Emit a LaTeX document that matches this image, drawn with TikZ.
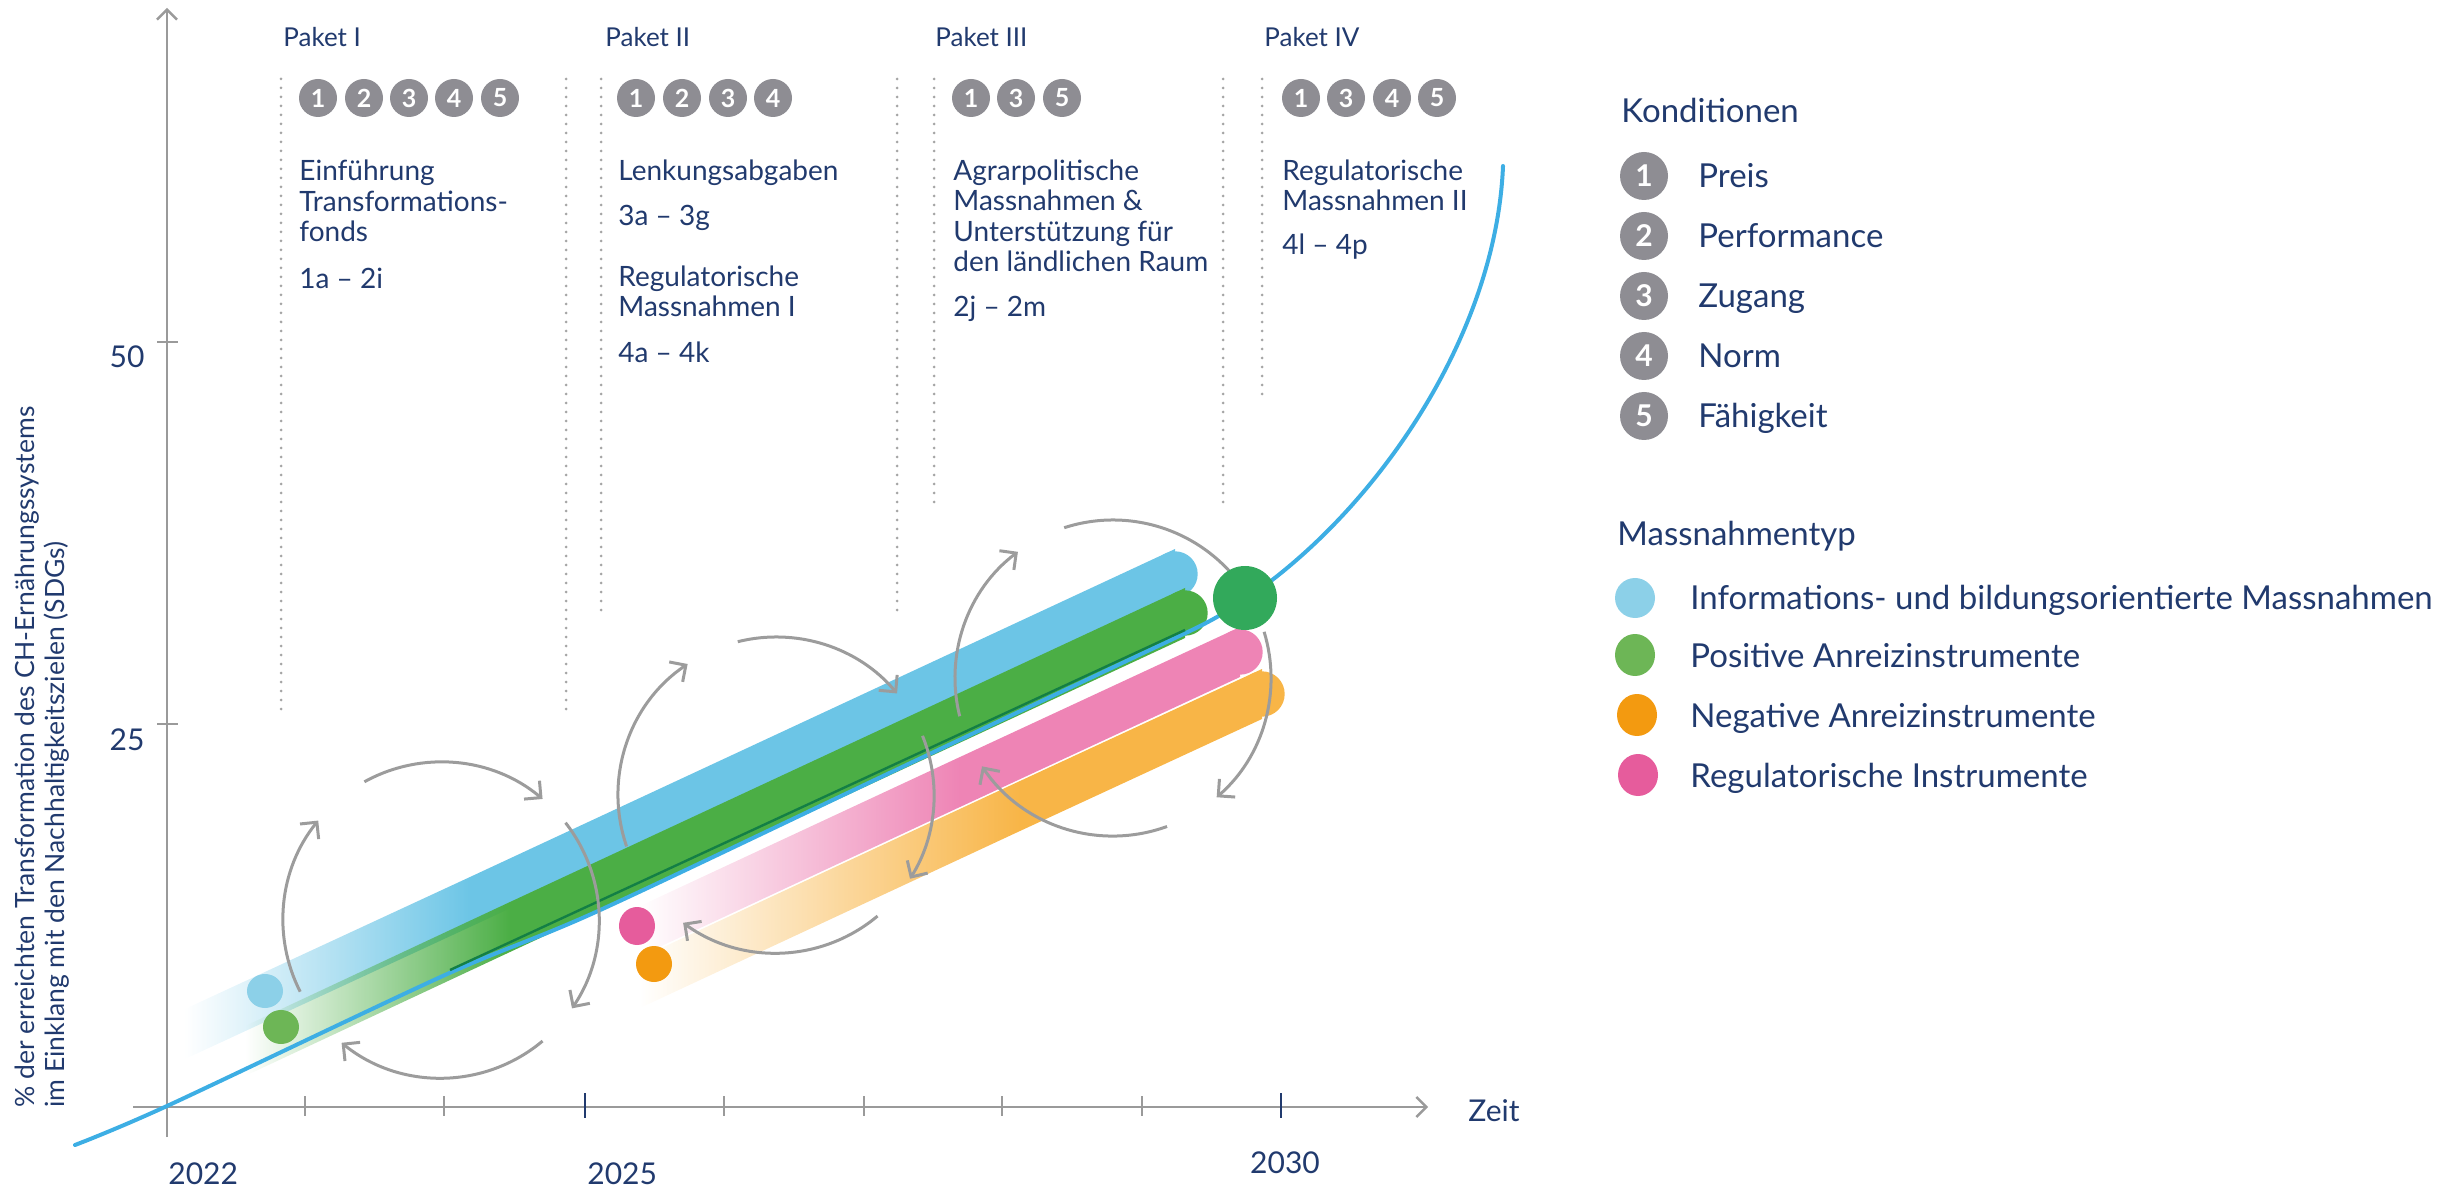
\documentclass[tikz,border=0pt]{standalone}
\usepackage{fontspec}
\setmainfont{Lato}
\usetikzlibrary{arrows.meta,fadings}

\definecolor{navy}{HTML}{213A6E}
\definecolor{cgray}{HTML}{8E8D93}
\definecolor{axgray}{HTML}{9A9A9A}
\definecolor{dotgray}{HTML}{A5A5A5}
\definecolor{arcgray}{HTML}{9C9C9C}
\definecolor{lineblue}{HTML}{3DAEE4}
\definecolor{bandblue}{HTML}{6CC5E6}
\definecolor{bandgreen}{HTML}{4BAE45}
\definecolor{bandpink}{HTML}{EE84B5}
\definecolor{bandorange}{HTML}{F8B547}
\definecolor{blobblue}{HTML}{8CD0E8}
\definecolor{blobgreen}{HTML}{6DB656}
\definecolor{bloborange}{HTML}{F39A10}
\definecolor{blobpink}{HTML}{E65C9C}
\definecolor{biggreen}{HTML}{32A95B}
\definecolor{edgegreen}{HTML}{137F45}

\tikzfading[name=fadein, left color=transparent!100, right color=transparent!0]

\tikzset{
  ptitle/.style={anchor=base west, inner sep=0pt, text=navy, font=\fontsize{13}{15}\selectfont},
  ptext/.style={anchor=base west, inner sep=0pt, text=navy, font=\fontsize{14}{16}\selectfont},
  pnum/.style={circle, fill=cgray, text=white, minimum size=19pt, inner sep=0pt, font=\fontsize{12.5}{12.5}\selectfont\bfseries},
  lnum/.style={circle, fill=cgray, text=white, minimum size=24pt, inner sep=0pt, font=\fontsize{15}{15}\selectfont\bfseries},
  lhead/.style={anchor=base west, inner sep=0pt, text=navy, font=\fontsize{16.5}{19}\selectfont},
  ltext/.style={anchor=base west, inner sep=0pt, text=navy, font=\fontsize{16.5}{19}\selectfont},
  axlabel/.style={inner sep=0pt, text=navy, font=\fontsize{15}{18}\selectfont},
  ylabel/.style={rotate=90, anchor=base west, inner sep=0pt, text=navy, font=\fontsize{13.25}{15}\selectfont},
  dotline/.style={dotgray, line width=1.5pt, line cap=round, dash pattern=on 0pt off 4.5pt},
  axisline/.style={axgray, line width=1.2pt},
  axtip/.style={-{Straight Barb[length=5pt,width=10pt]}},
  cyc/.style={arcgray, line width=1.5pt, -{Straight Barb[length=6pt,width=12pt]}},
  cycnotip/.style={arcgray, line width=1.5pt},
  fadeband/.style={path fading=fadein, fit fading=true}
}

% brush band: color, x1,y1 (fade start), x2,y2 (solid start), x3,y3 (end); vertical half thickness 25
\newcommand\brushband[7]{%
  \fill[#1, fadeband] (#2,#3-25) -- (#4,#5-25) -- (#4,#5+25) -- (#2,#3+25) -- cycle;
  \fill[#1] (#4,#5-25) -- (#6,#7-25) -- (#6,#7+25) -- (#4,#5+25) -- cycle;
  \fill[#1] (#6,#7) circle[radius=22.7];
}

\begin{document}
\begin{tikzpicture}[x=0.5pt,y=-0.5pt]
\useasboundingbox (0,0) rectangle (2455,1186);

% ---------- dotted package separators ----------
\draw[dotline] (281,79) -- (281,718);
\draw[dotline] (566,79) -- (566,718);
\draw[dotline] (601,79) -- (601,612);
\draw[dotline] (897,79) -- (897,612);
\draw[dotline] (934,79) -- (934,507);
\draw[dotline] (1223,79) -- (1223,507);
\draw[dotline] (1262,79) -- (1262,398);

% ---------- axes ----------
\draw[axisline, axtip] (167,1137) -- (167,8);
\draw[axisline, axtip] (133,1107) -- (1428,1107);
\draw[axisline] (157,342) -- (178,342);
\draw[axisline] (157,724) -- (178,724);
\foreach \tx in {305,444,724,864,1002,1142}{
  \draw[axisline] (\tx,1096) -- (\tx,1116);
}
\draw[navy, line width=1.2pt] (585,1093) -- (585,1118);
\draw[navy, line width=1.2pt] (1281,1093) -- (1281,1118);

\node[axlabel, anchor=center] (y50) at (127,357) {50};
\node[axlabel, anchor=center] (y25) at (127,740) {25};
\node[axlabel, anchor=base west] (t2022) at (168,1184) {2022};
\node[axlabel, anchor=base west] (t2025) at (587,1184) {2025};
\node[axlabel, anchor=base] (t2030) at (1285,1173) {2030};
\node[axlabel, anchor=base west] (zeit) at (1468,1121) {Zeit};

\node[ylabel] (ylab1) at (34,1108) {\% der erreichten Transformation des CH-Ernährungssystems};
\node[ylabel] (ylab2) at (64,1108) {im Einklang mit den Nachhaltigkeitszielen (SDGs)};

% ---------- brush bands ----------
\brushband{bandblue}{185}{1034}{470}{902}{1175}{574}
\brushband{bandgreen}{245}{1051}{510}{927}{1185}{613}
\brushband{bandpink}{640}{931}{960}{782}{1240}{652}
\brushband{bandorange}{640}{983}{1020}{806}{1262}{694}

% ---------- trajectory ----------
\draw[lineblue, line width=2pt, line cap=round] plot[smooth, tension=0.5] coordinates {(75,1145) (167,1106) (445,975) (598,911) (900,768) (1192,630)} .. controls (1340,560) and (1495,360) .. (1503,166);
\draw[edgegreen, line width=1.2pt] (450,970) -- (1185,630);

% ---------- cycles ----------
\coordinate (c1) at (441,920);
\coordinate (c2) at (776,795);
\coordinate (c3) at (1113,678);
\draw[cyc] (c1) ++(-207:158) arc[start angle=-207, end angle=-141, radius=158];
\draw[cyc] (c1) ++(-119:158) arc[start angle=-119, end angle=-50, radius=158];
\draw[cyc] (c1) ++(-38:158) arc[start angle=-38, end angle=34, radius=158];
\draw[cyc] (c1) ++(50:158) arc[start angle=50, end angle=129, radius=158];

\draw[cyc] (c2) ++(-199:158) arc[start angle=-199, end angle=-124, radius=158];
\draw[cyc] (c2) ++(-104:158) arc[start angle=-104, end angle=-40, radius=158];
\draw[cyc] (c2) ++(-22:158) arc[start angle=-22, end angle=32, radius=158];
\draw[cyc] (c2) ++(50:158) arc[start angle=50, end angle=126, radius=158];

\draw[cyc] (c3) ++(-194:158) arc[start angle=-194, end angle=-127, radius=158];
\draw[cycnotip] (c3) ++(-108:158) arc[start angle=-108, end angle=-30, radius=158];
\draw[cyc] (c3) ++(-17:158) arc[start angle=-17, end angle=49, radius=158];
\draw[cyc] (c3) ++(70:158) arc[start angle=70, end angle=146, radius=158];

% ---------- blobs ----------
\fill[blobblue] (265,991) ellipse[x radius=18, y radius=17];
\fill[blobgreen] (281,1027) ellipse[x radius=18, y radius=17];
\fill[blobpink] (637,926) ellipse[x radius=18, y radius=19];
\fill[bloborange] (654,964) ellipse[x radius=18, y radius=18];
\fill[biggreen] (1245,598) circle[radius=32];

% ---------- packages ----------
\node[ptitle] (p1) at (283,47) {Paket I};
\node[ptitle] (p2) at (605,47) {Paket II};
\node[ptitle] (p3) at (935,47) {Paket III};
\node[ptitle] (p4) at (1264,47) {Paket IV};

\node[pnum] (p1a) at (318,98) {1};
\node[pnum] (p1b) at (364,98) {2};
\node[pnum] (p1c) at (409,98) {3};
\node[pnum] (p1d) at (454,98) {4};
\node[pnum] (p1e) at (500,98) {5};

\node[pnum] (p2a) at (636,98) {1};
\node[pnum] (p2b) at (682,98) {2};
\node[pnum] (p2c) at (728,98) {3};
\node[pnum] (p2d) at (773,98) {4};

\node[pnum] (p3a) at (971,98) {1};
\node[pnum] (p3b) at (1016,98) {3};
\node[pnum] (p3c) at (1062,98) {5};

\node[pnum] (p4a) at (1301,98) {1};
\node[pnum] (p4b) at (1346,98) {3};
\node[pnum] (p4c) at (1392,98) {4};
\node[pnum] (p4d) at (1437,98) {5};

\node[ptext] (p1t1) at (299,181) {Einführung};
\node[ptext] (p1t2) at (299,212) {Transformations-};
\node[ptext] (p1t3) at (299,242) {fonds};
\node[ptext] (p1t4) at (299,289) {1a – 2i};

\node[ptext] (p2t1) at (618,181) {Lenkungsabgaben};
\node[ptext] (p2t2) at (618,226) {3a – 3g};
\node[ptext] (p2t3) at (618,287) {Regulatorische};
\node[ptext] (p2t4) at (618,317) {Massnahmen I};
\node[ptext] (p2t5) at (618,363) {4a – 4k};

\node[ptext] (p3t1) at (953,181) {Agrarpolitische};
\node[ptext] (p3t2) at (953,211) {Massnahmen \&};
\node[ptext] (p3t3) at (953,242) {Unterstützung für};
\node[ptext] (p3t4) at (953,272) {den ländlichen Raum};
\node[ptext] (p3t5) at (953,317) {2j – 2m};

\node[ptext] (p4t1) at (1282,181) {Regulatorische};
\node[ptext] (p4t2) at (1282,211) {Massnahmen II};
\node[ptext] (p4t3) at (1282,255) {4l – 4p};

% ---------- legend: Konditionen ----------
\node[lhead] (kond) at (1621,123) {Konditionen};
\node[lnum] (k1) at (1644,176) {1};
\node[lnum] (k2) at (1644,236) {2};
\node[lnum] (k3) at (1644,296) {3};
\node[lnum] (k4) at (1644,356) {4};
\node[lnum] (k5) at (1644,416) {5};
\node[ltext] (k1t) at (1698,188) {Preis};
\node[ltext] (k2t) at (1698,248) {Performance};
\node[ltext] (k3t) at (1698,308) {Zugang};
\node[ltext] (k4t) at (1698,368) {Norm};
\node[ltext] (k5t) at (1698,428) {Fähigkeit};

% ---------- legend: Massnahmentyp ----------
\node[lhead] (mtyp) at (1617,546) {Massnahmentyp};
\fill[blobblue] (1635,598) ellipse[x radius=20, y radius=20];
\fill[blobgreen] (1635,655) ellipse[x radius=20, y radius=21];
\fill[bloborange] (1637,715) ellipse[x radius=20, y radius=21];
\fill[blobpink] (1638,775) ellipse[x radius=20, y radius=21];
\node[ltext] (m1t) at (1690,610) {Informations- und bildungsorientierte Massnahmen};
\node[ltext] (m2t) at (1690,667) {Positive Anreizinstrumente};
\node[ltext] (m3t) at (1690,727) {Negative Anreizinstrumente};
\node[ltext] (m4t) at (1690,787) {Regulatorische Instrumente};

\end{tikzpicture}
\end{document}
